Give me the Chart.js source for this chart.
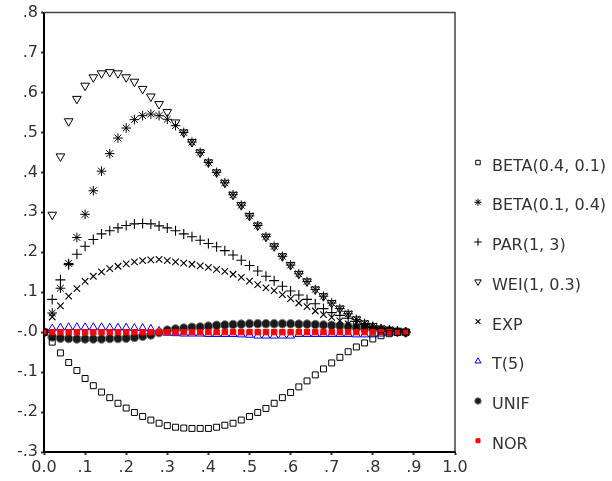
<!DOCTYPE html>
<html><head><meta charset="utf-8">
<script src="https://cdn.jsdelivr.net/npm/chart.js@4"></script>
<style>html,body{margin:0;padding:0;background:#fff;}#wrap{width:612px;height:481px;}</style>
</head><body><div id="wrap"><canvas id="c" width="612" height="481"></canvas></div>
<script>
const xValues = [0.00,0.02,0.04,0.06,0.08,0.10,0.12,0.14,0.16,0.18,0.20,0.22,0.24,0.26,0.28,0.30,0.32,0.34,0.36,0.38,0.40,0.42,0.44,0.46,0.48,0.50,0.52,0.54,0.56,0.58,0.60,0.62,0.64,0.66,0.68,0.70,0.72,0.74,0.76,0.78,0.80,0.82,0.84,0.86,0.88];
const seriesNames = ['BETA(0.4, 0.1)','BETA(0.1, 0.4)','PAR(1, 3)','WEI(1, 0.3)','EXP','T(5)','UNIF','NOR'];
const beta0401 = [0,-0.025,-0.052,-0.076,-0.096,-0.116,-0.134,-0.150,-0.164,-0.178,-0.190,-0.201,-0.211,-0.220,-0.228,-0.234,-0.238,-0.240,-0.241,-0.241,-0.241,-0.238,-0.233,-0.228,-0.220,-0.211,-0.201,-0.191,-0.178,-0.164,-0.151,-0.137,-0.122,-0.107,-0.092,-0.077,-0.063,-0.049,-0.037,-0.027,-0.017,-0.009,-0.004,-0.001,0];
const beta0104 = [0,0.048,0.110,0.172,0.237,0.295,0.354,0.403,0.447,0.486,0.511,0.532,0.542,0.546,0.542,0.533,0.517,0.500,0.476,0.450,0.425,0.400,0.374,0.344,0.318,0.291,0.267,0.239,0.215,0.190,0.168,0.146,0.127,0.107,0.090,0.073,0.059,0.046,0.032,0.022,0.015,0.009,0.006,0.003,0];
const par13 = [0,0.082,0.131,0.169,0.195,0.215,0.232,0.246,0.254,0.261,0.267,0.271,0.272,0.271,0.266,0.261,0.254,0.246,0.239,0.230,0.222,0.214,0.204,0.193,0.180,0.167,0.153,0.140,0.129,0.115,0.103,0.093,0.082,0.071,0.059,0.049,0.042,0.035,0.027,0.019,0.012,0.007,0.003,0.001,0];
const wei103 = [0,0.294,0.440,0.528,0.584,0.617,0.638,0.648,0.651,0.648,0.638,0.627,0.609,0.590,0.571,0.551,0.525,0.500,0.476,0.450,0.425,0.400,0.374,0.344,0.318,0.291,0.267,0.239,0.215,0.190,0.168,0.146,0.127,0.107,0.090,0.073,0.059,0.046,0.032,0.022,0.015,0.009,0.006,0.003,0];
const expo = [0,0.038,0.066,0.090,0.109,0.127,0.140,0.151,0.159,0.165,0.171,0.176,0.179,0.181,0.182,0.179,0.176,0.173,0.170,0.166,0.162,0.157,0.152,0.145,0.137,0.128,0.119,0.111,0.104,0.094,0.084,0.073,0.064,0.053,0.044,0.037,0.028,0.021,0.014,0.009,0.005,0.003,0.001,0,0];
const t5 = [0,0.009,0.011,0.012,0.012,0.012,0.012,0.012,0.011,0.011,0.011,0.010,0.010,0.008,0.003,-0.002,-0.003,-0.004,-0.004,-0.004,-0.005,-0.005,-0.005,-0.005,-0.006,-0.007,-0.009,-0.009,-0.009,-0.009,-0.009,-0.005,-0.005,-0.005,-0.005,-0.005,-0.005,-0.005,-0.006,-0.006,-0.006,-0.004,-0.002,-0.001,0];
const unif = [0,-0.012,-0.015,-0.016,-0.017,-0.017,-0.017,-0.017,-0.016,-0.016,-0.015,-0.013,-0.010,-0.007,-0.001,0.005,0.008,0.010,0.012,0.013,0.015,0.017,0.018,0.019,0.020,0.021,0.021,0.021,0.021,0.021,0.021,0.020,0.020,0.019,0.018,0.017,0.016,0.014,0.012,0.010,0.008,0.005,0.003,0.001,0];
const nor = [0,0,0,0,0,0,0,0,0,0,0,0,0,0,0,0,0,0,0,0,0,0,0,0,0,0,0,0,0,0,0,0,0,0,0,0,0,0,0,0,0,0,0,0,0];
const yTickLabels = {'-3':'-.3','-2':'-.2','-1':'-.1','0':'-.0','1':'.1','2':'.2','3':'.3','4':'.4','5':'.5','6':'.6','7':'.7','8':'.8'};
const xTickLabels = {'0':'0.0','1':'.1','2':'.2','3':'.3','4':'.4','5':'.5','6':'.6','7':'.7','8':'.8','9':'.9','10':'1.0'};

const pts = arr => arr.map((v,i)=>({x:xValues[i], y:v}));
const FONT = '"DejaVu Sans", sans-serif';
Chart.defaults.font.family = FONT;
Chart.defaults.font.size = 16;
Chart.defaults.color = '#333';

const datasets = [
  {label:seriesNames[0], data:pts(beta0401), pointStyle:'rect', pointRadius:4.2, borderColor:'#000', backgroundColor:'rgba(0,0,0,0)', borderWidth:1, order:0},
  {label:seriesNames[1], data:pts(beta0104), pointStyle:'star', pointRadius:4.8, borderColor:'#000', backgroundColor:'rgba(0,0,0,0)', borderWidth:1, order:3},
  {label:seriesNames[2], data:pts(par13), pointStyle:'cross', pointRadius:5, borderColor:'#000', backgroundColor:'rgba(0,0,0,0)', borderWidth:1.1, order:4},
  {label:seriesNames[3], data:pts(wei103), pointStyle:'triangle', rotation:180, pointRadius:5, borderColor:'#000', backgroundColor:'rgba(0,0,0,0)', borderWidth:1, order:2},
  {label:seriesNames[4], data:pts(expo), pointStyle:'crossRot', pointRadius:4.6, borderColor:'#000', backgroundColor:'rgba(0,0,0,0)', borderWidth:1.1, order:5},
  {label:seriesNames[5], data:pts(t5), pointStyle:'triangle', pointRadius:4.6, borderColor:'#0000ff', backgroundColor:'rgba(0,0,0,0)', borderWidth:1, order:7},
  {label:seriesNames[6], data:pts(unif), pointStyle:'circle', pointRadius:4.3, borderColor:'#777', backgroundColor:'#1a1a1a', borderWidth:1, order:6},
  {label:seriesNames[7], data:pts(nor), pointStyle:'rect', pointRadius:3.8, borderColor:'#ff0000', backgroundColor:'#ff0000', borderWidth:1, order:1}
];
datasets.forEach(d=>{ d.showLine=false; d.pointHoverRadius=d.pointRadius; d.pointRotation=d.rotation||0; });

const framePlugin = {
  id:'frame',
  afterDatasetsDraw(chart){
    const {ctx, chartArea:a} = chart;
    ctx.save();
    ctx.strokeStyle='#444'; ctx.lineWidth=1.5;
    ctx.beginPath();
    ctx.moveTo(a.left, a.top); ctx.lineTo(a.right, a.top); ctx.lineTo(a.right, a.bottom);
    ctx.stroke();
    ctx.restore();
  }
};
const legendPlugin = {
  id:'sideLegend',
  afterDraw(chart){
    const ctx = chart.ctx;
    chart.data.datasets.forEach((ds,i)=>{
      const y = 166.5 + i*39.75;
      ctx.save();
      ctx.strokeStyle = ds.borderColor; ctx.fillStyle = ds.backgroundColor; ctx.lineWidth = ds.borderWidth;
      Chart.helpers.drawPoint(ctx, {pointStyle:ds.pointStyle, rotation:ds.rotation||0, radius:ds.pointRadius*0.75, borderWidth:ds.borderWidth}, 478, y-4);
      ctx.fillStyle='#333'; ctx.font='16px '+FONT; ctx.textBaseline='middle'; ctx.textAlign='left';
      ctx.fillText(ds.label, 492, y);
      ctx.restore();
    });
  }
};

new Chart(document.getElementById('c'), {
  type:'scatter',
  data:{datasets},
  options:{
    responsive:false, animation:false, devicePixelRatio:1,
    layout:{padding:{top:11, right:157, left:0, bottom:0}},
    plugins:{legend:{display:false}, tooltip:{enabled:false}},
    scales:{
      x:{type:'linear', min:0, max:1,
         afterFit(s){ s.height = 29; },
         ticks:{stepSize:0.1, padding:3, color:'#333', callback:v=>xTickLabels[String(Math.round(v*10))]},
         grid:{display:true, drawOnChartArea:false, drawTicks:true, tickLength:3, tickWidth:2, tickColor:'#333'},
         border:{display:true, color:'#000', width:2}},
      y:{type:'linear', min:-0.3, max:0.8,
         afterFit(s){ s.width = 44; },
         ticks:{stepSize:0.1, padding:3, color:'#333', callback:v=>yTickLabels[String(Math.round(v*10))]},
         grid:{display:true, drawOnChartArea:false, drawTicks:true, tickLength:3, tickWidth:2, tickColor:'#333'},
         border:{display:true, color:'#000', width:2}}
    }
  },
  plugins:[framePlugin, legendPlugin]
});
</script></body></html>
